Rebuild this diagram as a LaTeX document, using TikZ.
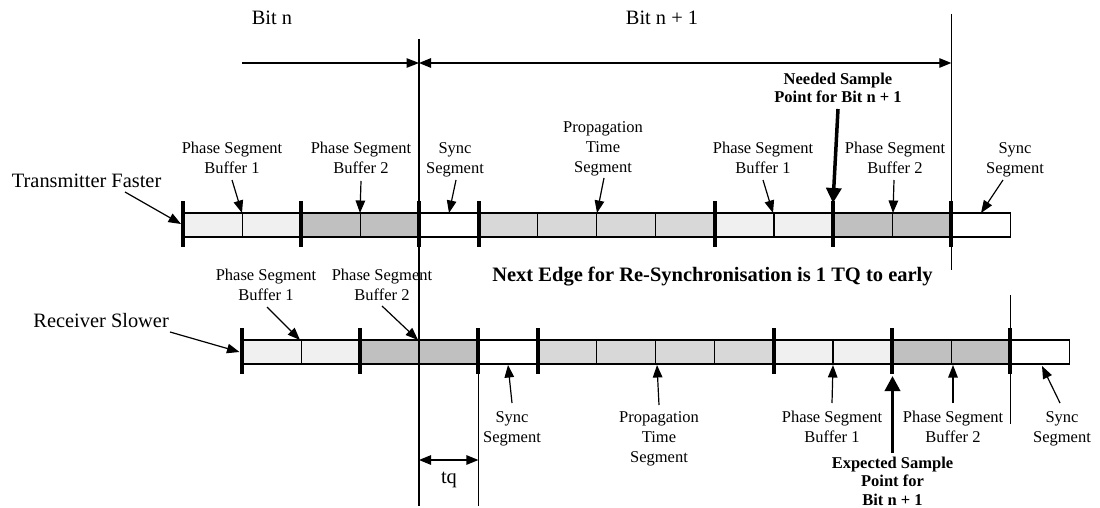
\documentclass[tikz,border=0pt]{standalone}
\usepackage{fontspec}
\setmainfont{Liberation Serif}
\usetikzlibrary{arrows.meta}
\definecolor{psa}{HTML}{F0F0F0}
\definecolor{psb}{HTML}{C0C0C0}
\definecolor{prp}{HTML}{D8D8D8}
\begin{document}
\begin{tikzpicture}[x=1pt,y=-1pt,
  vline/.style={line width=1.2pt},
  tickmark/.style={line width=4pt},
  lbl/.style={font=\fontsize{16.5}{20}\selectfont, align=center, inner sep=0pt, anchor=base},
  blbl/.style={font=\fontsize{16.5}{18.4}\selectfont\bfseries, align=center, inner sep=0pt, anchor=base},
  big/.style={font=\fontsize{20.4}{24}\selectfont, inner sep=0pt, anchor=base},
  ptr/.style={line width=1.2pt, -{Triangle[length=12.5pt,width=9.5pt]}},
  tptr/.style={line width=3.5pt, -{Triangle[length=15pt,width=15pt]}},
  dimarrow/.style={line width=1.2pt, {Triangle[length=12pt,width=9.5pt]}-{Triangle[length=12pt,width=9.5pt]}},
]
\useasboundingbox (0,0) rectangle (1100,508);

% ---- bars ----
\foreach \yt/\yb/\xo in {213/237/183, 340/364/242}{
  \foreach \i/\c in {0/psa,1/psa,2/psb,3/psb,4/white,5/prp,6/prp,7/prp,8/prp,9/psa,10/psa,11/psb,12/psb,13/white}{
    \filldraw[fill=\c, draw=black, line width=1.2pt] ({\xo+\i*59.1},\yt) rectangle ({\xo+(\i+1)*59.1},\yb);
  }
  \foreach \i in {0,2,4,5,9,11,13}{
    \draw[tickmark] ({\xo+\i*59.1},{\yt-12}) -- ({\xo+\i*59.1},{\yb+10});
  }
}

% ---- vertical reference lines ----
\coordinate (v1t) at (419,39);   \coordinate (v1b) at (419,506);
\coordinate (v2t) at (478.4,364); \coordinate (v2b) at (478.4,506);
\coordinate (v3t) at (951.3,14); \coordinate (v3b) at (951.3,270);
\coordinate (v4t) at (1010.3,295); \coordinate (v4b) at (1010.3,424);
\draw[vline] (v1t) -- (v1b);
\draw[vline] (v2t) -- (v2b);
\draw[vline] (v3t) -- (v3b);
\draw[vline] (v4t) -- (v4b);

% ---- bit arrows ----
\node[big] (bitn) at (272,24.6) {Bit n};
\node[big] (bitn1) at (662,24.6) {Bit n + 1};
\coordinate (b0) at (242,63); \coordinate (b1) at (419,63); \coordinate (b2) at (951.3,63);
\draw[ptr] (b0) -- (b1);
\draw[dimarrow] (b1) -- (b2);

% ---- tq ----
\coordinate (q0) at (419,460); \coordinate (q1) at (478.4,460);
\draw[dimarrow] (q0) -- (q1);
\node[big] (tq) at (449,483) {tq};

% ---- left labels ----
\node[big, anchor=base west] (tx) at (11.7,187.3) {Transmitter Faster};
\node[big, anchor=base east] (rx) at (169,327) {Receiver Slower};
\node[big, font=\fontsize{20.5}{24}\selectfont\bfseries] (next) at (712.5,281.5) {Next Edge for Re-Synchronisation is 1 TQ to early};

% ---- upper labels (y = baseline of last line) ----
\node[lbl] (u1) at (232,173) {Phase Segment\\Buffer 1};
\node[lbl] (u2) at (361,173) {Phase Segment\\Buffer 2};
\node[lbl] (u3) at (455,173) {Sync\\Segment};
\node[lbl] (u4) at (603,172) {Propagation\\Time\\Segment};
\node[lbl] (u5) at (763,173) {Phase Segment\\Buffer 1};
\node[blbl] (u6) at (838,103) {Needed Sample\\Point for Bit n + 1};
\node[lbl] (u7) at (895,173) {Phase Segment\\Buffer 2};
\node[lbl] (u8) at (1015,173) {Sync\\Segment};

\coordinate (txt) at (125,192);  \coordinate (txh) at (181,224);
\coordinate (u1t) at (232,180);  \coordinate (u1h) at (242,213);
\coordinate (u2t) at (361,181);  \coordinate (u2h) at (360,213);
\coordinate (u3t) at (456,180);  \coordinate (u3h) at (449,213);
\coordinate (u4t) at (604,178);  \coordinate (u4h) at (597,213);
\coordinate (u5t) at (763,180);  \coordinate (u5h) at (773,213);
\coordinate (u6t) at (838,109);  \coordinate (u6h) at (833,203);
\coordinate (u7t) at (894,180);  \coordinate (u7h) at (893,213);
\coordinate (u8t) at (1003,180); \coordinate (u8h) at (981,213);
\draw[ptr] (txt) -- (txh);
\draw[ptr] (u1t) -- (u1h);
\draw[ptr] (u2t) -- (u2h);
\draw[ptr] (u3t) -- (u3h);
\draw[ptr] (u4t) -- (u4h);
\draw[ptr] (u5t) -- (u5h);
\draw[tptr] (u6t) -- (u6h);
\draw[ptr] (u7t) -- (u7h);
\draw[ptr] (u8t) -- (u8h);

% ---- lower labels above bar ----
\node[lbl] (l1) at (266,300) {Phase Segment\\Buffer 1};
\node[lbl] (l2) at (382,300) {Phase Segment\\Buffer 2};
\coordinate (rxt) at (170,332); \coordinate (rxh) at (239.5,352);
\coordinate (l1t) at (267,307); \coordinate (l1h) at (300,340);
\coordinate (l2t) at (382,306); \coordinate (l2h) at (418,340);
\draw[ptr] (rxt) -- (rxh);
\draw[ptr] (l1t) -- (l1h);
\draw[ptr] (l2t) -- (l2h);

% ---- lower labels below bar ----
\node[lbl] (d1) at (512,442) {Sync\\Segment};
\node[lbl] (d2) at (659,462) {Propagation\\Time\\Segment};
\node[lbl] (d3) at (832,442) {Phase Segment\\Buffer 1};
\node[lbl] (d4) at (953,442) {Phase Segment\\Buffer 2};
\node[lbl] (d5) at (1062,442) {Sync\\Segment};
\node[blbl] (d6) at (892.5,505) {Expected Sample\\Point for\\Bit n + 1};
\coordinate (d1t) at (512,403);  \coordinate (d1h) at (508,365);
\coordinate (d2t) at (659,405);  \coordinate (d2h) at (657,365);
\coordinate (d3t) at (832,403);  \coordinate (d3h) at (833,365);
\coordinate (d4t) at (953,403);  \coordinate (d4h) at (953,365);
\coordinate (d5t) at (1060,403); \coordinate (d5h) at (1042,366);
\coordinate (d6t) at (892.5,453); \coordinate (d6h) at (892.5,376);
\draw[ptr] (d1t) -- (d1h);
\draw[ptr] (d2t) -- (d2h);
\draw[ptr] (d3t) -- (d3h);
\draw[ptr] (d4t) -- (d4h);
\draw[ptr] (d5t) -- (d5h);
\draw[tptr] (d6t) -- (d6h);
\end{tikzpicture}
\end{document}
